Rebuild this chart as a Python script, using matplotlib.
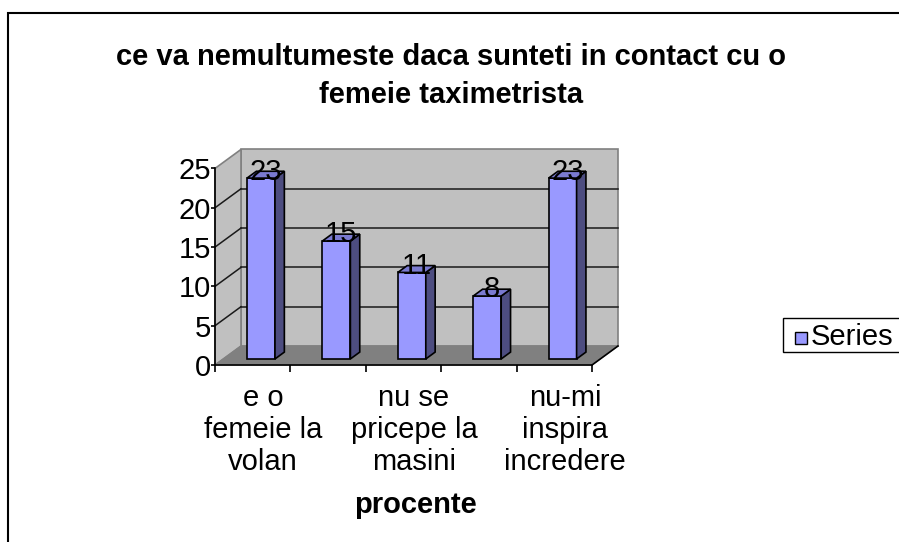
import matplotlib
matplotlib.use("Agg")
import matplotlib.pyplot as plt
from matplotlib.patches import Polygon, Rectangle
from matplotlib.transforms import offset_copy

plt.rcParams.update({"font.family": ["Liberation Sans", "DejaVu Sans"]})

# data
title = "ce va nemultumeste daca sunteti in contact cu o\nfemeie taximetrista"
categories = ["e o\nfemeie la\nvolan", "", "nu se\npricepe la\nmasini", "", "nu-mi\ninspira\nincredere"]
values = [23, 15, 11, 8, 23]
yticks = [0, 5, 10, 15, 20, 25]
series_name = "Series"   # only this much is visible, the rest is cut by the image edge
xlabel = "procente"

WALL, WALL_EDGE, FLOOR = "#c0c0c0", "#808080", "#808080"
FRONT, SIDE, TOP = "#9999ff", "#4d4d80", "#7a7ad0"
FS = 21

W, H = 899, 542
fig = plt.figure(figsize=(W / 100, H / 100), dpi=100)
fig.patch.set_facecolor("white")

# plot area laid out so 1 category ~ 75 px and 1 unit ~ 7.9 px
ax = fig.add_axes([0.1972, 0.312, 0.5116, 0.4207])
ax.set_xlim(-0.5, 5.6)
ax.set_ylim(-1, 28)
ax.set_facecolor("none")

n = len(values)
ymax = yticks[-1]
dx, dy = 0.345, 2.42          # oblique depth of the floor
f0, f1 = 0.32, 0.68           # bar depth range
bw = 0.371                    # bar width

# walls and floor
ax.add_patch(Polygon([(dx, dy), (n + dx, dy), (n + dx, ymax + dy), (dx, ymax + dy)],
                     closed=True, fc=WALL, ec=WALL_EDGE, lw=1.2, zorder=1))
ax.add_patch(Polygon([(0, 0), (dx, dy), (dx, ymax + dy), (0, ymax)],
                     closed=True, fc=WALL, ec=WALL_EDGE, lw=1.2, zorder=1))
ax.add_patch(Polygon([(0, 0), (n, 0), (n + dx, dy), (dx, dy)],
                     closed=True, fc=FLOOR, ec=FLOOR, lw=0.8, zorder=1))
ax.plot([n, n + dx], [0, dy], color="black", lw=1.2, zorder=2)

for v in yticks[1:-1]:
    ax.plot([dx, n + dx], [v + dy, v + dy], color="#1a1a1a", lw=1.1, zorder=2)
    ax.plot([0, dx], [v, v + dy], color="#1a1a1a", lw=1.1, zorder=2)

# bars
bdx, bdy = (f1 - f0) * dx, (f1 - f0) * dy
for i, v in enumerate(values):
    xl = i + (1 - bw) / 2 + f0 * dx
    yb = f0 * dy
    ax.add_patch(Polygon([(xl, yb), (xl + bw, yb), (xl + bw, yb + v), (xl, yb + v)],
                         closed=True, fc=FRONT, ec="black", lw=1.2, zorder=3))
    ax.add_patch(Polygon([(xl + bw, yb), (xl + bw + bdx, yb + bdy),
                          (xl + bw + bdx, yb + v + bdy), (xl + bw, yb + v)],
                         closed=True, fc=SIDE, ec="black", lw=1.2, zorder=3))
    ax.add_patch(Polygon([(xl, yb + v), (xl + bw, yb + v),
                          (xl + bw + bdx, yb + v + bdy), (xl + bdx, yb + v + bdy)],
                         closed=True, fc=TOP, ec="black", lw=1.2, zorder=3))
    ax.text(xl + bw / 2 + bdx / 2, yb + v + bdy / 2 + 0.4, str(v),
            ha="center", va="center", fontsize=FS, zorder=4)

# axes lines and ticks
for s in ("top", "right"):
    ax.spines[s].set_visible(False)
ax.spines["left"].set_position(("data", 0))
ax.spines["left"].set_bounds(0, ymax)
ax.spines["bottom"].set_position(("data", 0))
ax.spines["bottom"].set_bounds(0, n)
for s in ("left", "bottom"):
    ax.spines[s].set_linewidth(1.2)
    ax.spines[s].set_zorder(5)
ax.set_yticks(yticks)
ax.set_xticks(range(n + 1))
ax.set_xticklabels([])
ax.tick_params(axis="y", direction="out", length=3, width=1.2, labelsize=FS, pad=0)
ax.tick_params(axis="x", direction="out", length=5, width=1.2)

lab_tr = offset_copy(ax.transData, fig=fig, y=-19, units="dots")
for i, c in enumerate(categories):
    ax.text(i + 0.5 + 0.14, 0, c, transform=lab_tr, ha="center", va="top",
            fontsize=FS, linespacing=1.17, multialignment="center")

fig.text(415 / W, 1 - 505 / H, xlabel, ha="center", va="center",
         fontsize=FS, fontweight="bold")
fig.text(451 / W, 1 - 76 / H, title, ha="center", va="center",
         fontsize=FS, fontweight="bold", linespacing=1.44)

# legend box (its right part falls outside the image)
fig.patches.append(Rectangle((783 / W, 1 - 352 / H), 0.3, 34 / H, fc="white",
                             ec="black", lw=1, transform=fig.transFigure))
fig.patches.append(Rectangle((795 / W, 1 - 344 / H), 12 / W, 12 / H, fc=FRONT,
                             ec="black", lw=1, transform=fig.transFigure))
fig.text(811 / W, 1 - 337 / H, series_name, ha="left", va="center", fontsize=FS)

# chart area border (right/bottom edges fall outside the image)
fig.patches.append(Rectangle((8 / W, -0.2), 1.2, 1 - 13 / H + 0.2, fill=False,
                             ec="black", lw=1.5, transform=fig.transFigure))

fig.savefig("out.png", dpi=100)
